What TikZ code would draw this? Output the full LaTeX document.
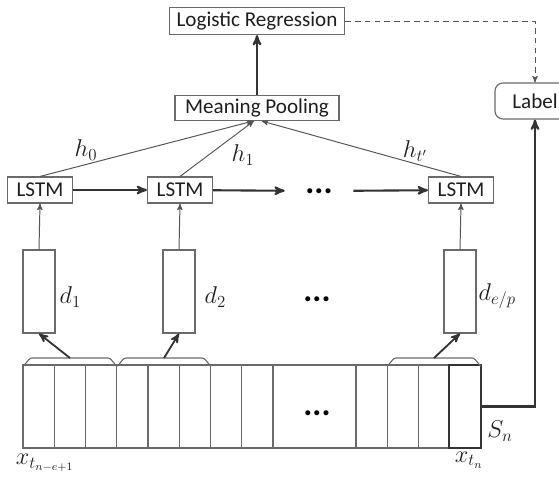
\documentclass[tikz,border=0pt]{standalone}
\usepackage{fontspec}
\setmainfont{Carlito}
\usepackage{xcolor}
\usepackage{amsmath}
\usetikzlibrary{arrows}
\definecolor{boxgray}{HTML}{6A6A6A}
\definecolor{linegray}{HTML}{555555}
\definecolor{darkline}{HTML}{333333}
\definecolor{inkcol}{HTML}{1E1E1E}
\newcommand{\mathsz}{\fontsize{17}{19}\selectfont}
\newcommand{\bigdots}{{\fontsize{24}{24}\selectfont\bfseries...}}
\tikzset{
 box/.style={draw=boxgray, line width=0.8pt, inner sep=0pt, text=inkcol},
 lstm/.style={box, minimum width=16.25mm, minimum height=6.5mm},
 dbox/.style={box, minimum width=8mm, minimum height=20.75mm},
 thinarrow/.style={draw=linegray, line width=0.7pt, ->, >=stealth'},
 thickarrow/.style={draw=darkline, line width=1.5pt, ->, >=stealth'},
 cellline/.style={draw=boxgray, line width=0.8pt},
 bracket/.style={draw=boxgray, line width=0.8pt},
 lbl/.style={text=inkcol, inner sep=1pt, font=\mathsz}
}
\begin{document}
\begin{tikzpicture}[x=0.25mm, y=-0.25mm, font=\fontsize{15}{17}\selectfont]
\useasboundingbox (0,0) rectangle (559,476);
% top part
\node[box, minimum width=43.75mm, minimum height=6.75mm] (logreg) at (257,21) {Logistic Regression};
\node[box, minimum width=41mm, minimum height=6.25mm] (pool) at (257,108) {Meaning Pooling};
\node[box, rounded corners=2mm, minimum width=20mm, minimum height=9mm] (label) at (535,101) {Label};
\draw[thickarrow] (pool) -- (logreg);
\draw[draw=linegray, line width=0.7pt, dash pattern=on 4pt off 3pt, ->, >=stealth'] (logreg.east) -| (label.north);

% LSTM row
\node[lstm] (lstm1) at (40,190) {LSTM};
\node[lstm] (lstm2) at (180,190) {LSTM};
\node[lstm] (lstm3) at (461,190) {LSTM};
\node[inner sep=0pt, minimum width=17mm] (dots1) at (319,191) {\bigdots};
\draw[thickarrow] (lstm1) -- (lstm2);
\draw[thickarrow] (lstm2) -- (dots1);
\draw[thickarrow] (dots1) -- (lstm3);
\draw[thinarrow] (lstm1.north) -- ([xshift=-1mm]pool.south);
\draw[thinarrow] (lstm2.north) -- ([xshift=-0.8mm]pool.south);
\draw[thinarrow] (lstm3.north) -- ([xshift=1.2mm]pool.south);
\node[lbl] (h0) at (86,150) {$h_0$};
\node[lbl] (h1) at (243,155) {$h_1$};
\node[lbl] (ht) at (415,151) {$h_{t'}$};

% d vectors
\node[dbox] (d1) at (39,291.5) {};
\node[dbox] (d2) at (179,291.5) {};
\node[dbox] (d3) at (460,291.5) {};
\node[inner sep=0pt] (dots2) at (317,299) {\bigdots};
\foreach \i in {1,2,3} {
 \draw[thinarrow] (d\i.north) -- (lstm\i.south);
}
\node[lbl, anchor=west] (dl1) at (58,297) {$d_1$};
\node[lbl, anchor=west] (dl2) at (203,297) {$d_2$};
\node[lbl, anchor=west] (dl3) at (477,296) {$d_{e/p}$};

% input sequence
\draw[cellline] (23,365) rectangle (481,448);
\foreach \i in {1,...,8} {
 \draw[cellline] (23+31.25*\i,365) -- ++(0,83);
}
\foreach \i in {0,...,3} {
 \draw[cellline] (356+31.25*\i,365) -- ++(0,83);
}
\node[draw=darkline, line width=1.6pt, minimum width=8mm, minimum height=20.75mm, inner sep=0pt] (xn) at (465,406.5) {};
\node[inner sep=0pt] (dots3) at (317,413) {\bigdots};
\draw[bracket] (23,365) to[out=-90,in=180] (32,358) -- (108,358) to[out=0,in=-90] (117,365);
\draw[bracket] (117,365) to[out=-90,in=180] (126,358) -- (202,358) to[out=0,in=-90] (211,365);
\draw[bracket] (387,365) to[out=-90,in=180] (396,358) -- (472,358) to[out=0,in=-90] (481,365);
\coordinate (b1) at (70,358);
\coordinate (b2) at (164,358);
\coordinate (b3) at (434,358);
\foreach \i in {1,2,3} {
 \draw[thickarrow, line width=1.3pt] (b\i) -- (d\i.south);
}
\draw[draw=darkline, line width=1.5pt, ->, >=stealth'] (xn.east) -| (label.south);
\node[lbl] (xfirst) at (45,463) {$x_{t_{n-e+1}}$};
\node[lbl] (xlast) at (469,460) {$x_{t_n}$};
\node[lbl] (sn) at (500,431) {$S_n$};
\end{tikzpicture}
\end{document}
